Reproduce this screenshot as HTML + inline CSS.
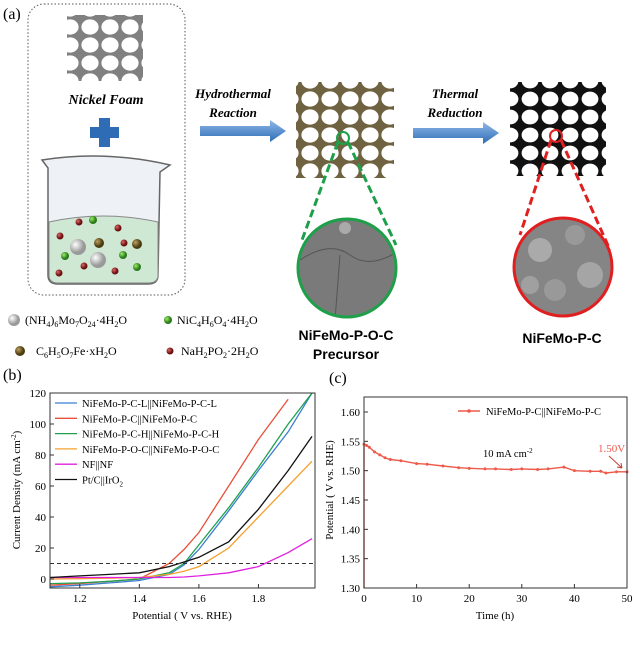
<!DOCTYPE html>
<html><head><meta charset="utf-8"><style>
body{margin:0;background:#fff;width:640px;height:640px;overflow:hidden}
svg{font-family:"Liberation Serif",serif}
</style></head><body>
<svg id="s" width="640" height="640" viewBox="0 0 640 640">
<defs>
<linearGradient id="arr" x1="0" y1="0" x2="0" y2="1"><stop offset="0" stop-color="#8fb8e8"/><stop offset="1" stop-color="#2e6db5"/></linearGradient>
<radialGradient id="wb" cx="0.35" cy="0.35"><stop offset="0" stop-color="#fff"/><stop offset="1" stop-color="#999"/></radialGradient>
<radialGradient id="gb" cx="0.35" cy="0.35"><stop offset="0" stop-color="#9e6"/><stop offset="1" stop-color="#2a7a1a"/></radialGradient>
<radialGradient id="rb" cx="0.35" cy="0.35"><stop offset="0" stop-color="#d66"/><stop offset="1" stop-color="#6a1010"/></radialGradient>
<radialGradient id="ob" cx="0.35" cy="0.35"><stop offset="0" stop-color="#bba060"/><stop offset="1" stop-color="#4a3a10"/></radialGradient>
<pattern id="foamG" width="20" height="18" patternUnits="userSpaceOnUse"><rect width="20" height="18" fill="#808080"/><ellipse cx="10" cy="9" rx="8.6" ry="7.6" fill="#fff"/></pattern>
<pattern id="foamB" width="20" height="18" patternUnits="userSpaceOnUse"><rect width="20" height="18" fill="#6f6240"/><ellipse cx="10" cy="9" rx="8.6" ry="7.6" fill="#fff"/></pattern>
<pattern id="foamK" width="20" height="18" patternUnits="userSpaceOnUse"><rect width="20" height="18" fill="#111"/><ellipse cx="10" cy="9" rx="8.4" ry="7.4" fill="#fff"/></pattern>
<clipPath id="c1"><circle cx="347" cy="268" r="49"/></clipPath>
<clipPath id="c2"><circle cx="563" cy="267" r="49"/></clipPath>
</defs>

<g>
<text x="3" y="19" font-size="16">(a)</text>
<rect x="28" y="4" width="157" height="291" rx="16" fill="none" stroke="#555" stroke-width="1" stroke-dasharray="1.5,2"/>
<rect x="67" y="15" width="76" height="66" fill="url(#foamG)"/>
<text x="106" y="104" font-size="14" font-weight="bold" font-style="italic" text-anchor="middle">Nickel Foam</text>
<path d="M99 118h11v9h9v11h-9v9h-11v-9h-9v-11h9z" fill="#2e6db5"/>
<g>
<path d="M42 160 Q105 150 170 165 L160 172 L158 275 Q158 284 148 284 L58 284 Q48 284 48 275 L48 168 Z" fill="#eef2f6" stroke="#666" stroke-width="1.5"/>
<path d="M49 222 Q103 210 158 222 L158 275 Q158 283 148 283 L58 283 Q49 283 49 275 Z" fill="#cfe8d4" stroke="#888"/>
<circle cx="78" cy="247" r="8" fill="url(#wb)"/><circle cx="98" cy="260" r="8" fill="url(#wb)"/>
<circle cx="99" cy="243" r="5" fill="url(#ob)"/><circle cx="137" cy="244" r="5" fill="url(#ob)"/>
<circle cx="93" cy="220" r="4" fill="url(#gb)"/><circle cx="65" cy="256" r="4" fill="url(#gb)"/><circle cx="123" cy="255" r="4" fill="url(#gb)"/><circle cx="137" cy="267" r="4" fill="url(#gb)"/>
<circle cx="79" cy="222" r="3.5" fill="url(#rb)"/><circle cx="118" cy="228" r="3.5" fill="url(#rb)"/><circle cx="60" cy="236" r="3.5" fill="url(#rb)"/><circle cx="124" cy="243" r="3.5" fill="url(#rb)"/><circle cx="59" cy="273" r="3.5" fill="url(#rb)"/><circle cx="84" cy="266" r="3.5" fill="url(#rb)"/><circle cx="115" cy="271" r="3.5" fill="url(#rb)"/>
</g>
<g font-size="12">
<circle cx="14" cy="320" r="6" fill="url(#wb)"/><text x="25" y="324">(NH<tspan font-size="8" dy="3">4</tspan><tspan dy="-3">)</tspan><tspan font-size="8" dy="3">6</tspan><tspan dy="-3">Mo</tspan><tspan font-size="8" dy="3">7</tspan><tspan dy="-3">O</tspan><tspan font-size="8" dy="3">24</tspan><tspan dy="-3">·4H</tspan><tspan font-size="8" dy="3">2</tspan><tspan dy="-3">O</tspan></text>
<circle cx="168" cy="320" r="4" fill="url(#gb)"/><text x="177" y="324">NiC<tspan font-size="8" dy="3">4</tspan><tspan dy="-3">H</tspan><tspan font-size="8" dy="3">6</tspan><tspan dy="-3">O</tspan><tspan font-size="8" dy="3">4</tspan><tspan dy="-3">·4H</tspan><tspan font-size="8" dy="3">2</tspan><tspan dy="-3">O</tspan></text>
<circle cx="20" cy="351" r="5" fill="url(#ob)"/><text x="36" y="355">C<tspan font-size="8" dy="3">6</tspan><tspan dy="-3">H</tspan><tspan font-size="8" dy="3">5</tspan><tspan dy="-3">O</tspan><tspan font-size="8" dy="3">7</tspan><tspan dy="-3">Fe·xH</tspan><tspan font-size="8" dy="3">2</tspan><tspan dy="-3">O</tspan></text>
<circle cx="170" cy="351" r="3.5" fill="url(#rb)"/><text x="181" y="355">NaH<tspan font-size="8" dy="3">2</tspan><tspan dy="-3">PO</tspan><tspan font-size="8" dy="3">2</tspan><tspan dy="-3">·2H</tspan><tspan font-size="8" dy="3">2</tspan><tspan dy="-3">O</tspan></text>
</g>
<text x="233" y="98" font-size="13" font-weight="bold" font-style="italic" text-anchor="middle">Hydrothermal</text>
<text x="233" y="117" font-size="13" font-weight="bold" font-style="italic" text-anchor="middle">Reaction</text>
<path d="M200 126h70v-6l16 11-16 11v-6h-70z" fill="url(#arr)"/>
<text x="455" y="98" font-size="13" font-weight="bold" font-style="italic" text-anchor="middle">Thermal</text>
<text x="455" y="117" font-size="13" font-weight="bold" font-style="italic" text-anchor="middle">Reduction</text>
<path d="M413 128h70v-6l16 11-16 11v-6h-70z" fill="url(#arr)"/>
<rect x="296" y="82" width="98" height="96" fill="url(#foamB)"/>
<circle cx="343" cy="138" r="6" fill="none" stroke="#1ea04a" stroke-width="2"/>
<path d="M338 142 L302 240 M348 142 L396 245" stroke="#1ea04a" stroke-width="3" stroke-dasharray="8,4"/>
<g clip-path="url(#c1)"><rect x="290" y="210" width="120" height="120" fill="#7a7a7a"/><path d="M300 260 Q330 240 350 255 T400 250 M340 255 L335 320" stroke="#555" fill="none"/><circle cx="345" cy="228" r="6" fill="#aaa"/></g>
<circle cx="347" cy="268" r="49" fill="none" stroke="#1ea04a" stroke-width="3"/>
<text x="346" y="340" font-size="14" font-weight="bold" font-family="Liberation Sans,sans-serif" text-anchor="middle">NiFeMo-P-O-C</text>
<text x="346" y="359" font-size="14" font-weight="bold" font-family="Liberation Sans,sans-serif" text-anchor="middle">Precursor</text>
<rect x="510" y="82" width="96" height="94" fill="url(#foamK)"/>
<circle cx="556" cy="136" r="6" fill="none" stroke="#e02020" stroke-width="2"/>
<path d="M551 140 L520 235 M561 140 L610 250" stroke="#e02020" stroke-width="3" stroke-dasharray="8,4"/>
<g clip-path="url(#c2)"><rect x="510" y="215" width="110" height="110" fill="#858585"/><circle cx="540" cy="250" r="12" fill="#aaa"/><circle cx="575" cy="235" r="10" fill="#999"/><circle cx="590" cy="275" r="13" fill="#a5a5a5"/><circle cx="555" cy="290" r="11" fill="#999"/><circle cx="530" cy="285" r="9" fill="#a0a0a0"/></g>
<circle cx="563" cy="267" r="49" fill="none" stroke="#e02020" stroke-width="3"/>
<text x="562" y="343" font-size="14" font-weight="bold" font-family="Liberation Sans,sans-serif" text-anchor="middle">NiFeMo-P-C</text>
</g>

<text x="3" y="380" font-size="16">(b)</text>
<text x="329" y="383" font-size="16">(c)</text>
<g id="gb2"></g>
<g id="gc"></g>
</svg>
<script>
// chart b data
const bV = [1.1,1.2,1.3,1.4,1.5,1.55,1.6,1.7,1.8,1.9,1.98];
const bRed = [-4,-3,-1.5,0,10,19,30,60,90,116,null];
const bBlue = [-5,-4,-2.5,-1,3,9,19,44,70,95,120];
const bGreen = [-3,-2.5,-1.5,0,4,10,22,46,72,100,120];
const bOrange = [0,0.2,0.5,1,3,5,8,20,40,60,76];
const bMagenta = [1,1,1,1,1,1.3,2,4,8,17,26];
const bBlack = [1,2,3,4,8,11,14,24,45,70,92];
const bNames = ["NiFeMo-P-C-L||NiFeMo-P-C-L","NiFeMo-P-C||NiFeMo-P-C","NiFeMo-P-C-H||NiFeMo-P-C-H","NiFeMo-P-O-C||NiFeMo-P-O-C","NF||NF","Pt/C||IrO2"];
const bXTicks = [1.2,1.4,1.6,1.8];
const bYTicks = [0,20,40,60,80,100,120];
// chart c data
const cT = [0,0.5,1,2,3,4,5,7,10,12,15,18,20,23,25,28,30,33,35,38,40,43,45,46,48,50];
const cP = [1.545,1.543,1.54,1.532,1.527,1.522,1.519,1.517,1.512,1.511,1.508,1.505,1.504,1.503,1.503,1.502,1.503,1.502,1.503,1.506,1.5,1.499,1.499,1.496,1.498,1.498];
const cXTicks = [0,10,20,30,40,50];
const cYTicks = [1.30,1.35,1.40,1.45,1.50,1.55,1.60];

const NS="http://www.w3.org/2000/svg";
function mk(p,t,a){const e=document.createElementNS(NS,t);for(const k in a)e.setAttribute(k,a[k]);p.appendChild(e);return e;}

const gb=document.getElementById('gb2');
const bx=v=>50+(v-1.1)*(265/0.89), by=v=>579-v*1.55;
const bcols=["#3a7fd0","#e8503a","#20a050","#f5a030","#e020e0","#111"];
const bser=[bBlue,bRed,bGreen,bOrange,bMagenta,bBlack];
const bclip=mk(gb,'clipPath',{id:'bclip'});mk(bclip,'rect',{x:50,y:393,width:265,height:195});
bser.forEach((s,i)=>{let d="";s.forEach((v,j)=>{if(v!==null)d+=(d?"L":"M")+bx(bV[j]).toFixed(1)+" "+by(v).toFixed(1);});
 const p=mk(gb,'path',{d:d,fill:"none",stroke:bcols[i],"stroke-width":1.3,"clip-path":"url(#bclip)"});
 
 });
const ref=mk(gb,'line',{x1:50,x2:315,y1:by(10),y2:by(10),stroke:"#333","stroke-dasharray":"4,3"});


const fb=mk(gb,'rect',{x:50,y:393,width:265,height:195,fill:"none",stroke:"#333"});


bXTicks.forEach(t=>{mk(gb,'line',{x1:bx(t),x2:bx(t),y1:588,y2:584,stroke:"#333"});const e=mk(gb,'text',{x:bx(t),y:602,"font-size":11,"text-anchor":"middle"});e.textContent=t.toFixed(1);
 
 });
bYTicks.forEach(t=>{mk(gb,'line',{x1:50,x2:54,y1:by(t),y2:by(t),stroke:"#333"});const e=mk(gb,'text',{x:46,y:by(t)+4,"font-size":11,"text-anchor":"end"});e.textContent=t;
 
 });
let xt=mk(gb,'text',{x:182,y:619,"font-size":11,"text-anchor":"middle"});xt.textContent="Potential ( V vs. RHE)";


let yt=mk(gb,'text',{x:0,y:0,"font-size":11,"text-anchor":"middle",transform:"translate(20 490) rotate(-90)"});yt.innerHTML='Current Density (mA cm<tspan font-size="7" dy="-4">-2</tspan><tspan dy="4">)</tspan>';


[0,1,2,3,4,5].forEach((i,k)=>{const y=403+k*15.3;
 mk(gb,'line',{x1:55,x2:77,y1:y,y2:y,stroke:bcols[i],"stroke-width":1.3});
 const t=mk(gb,'text',{x:82,y:y+4,"font-size":10.5});
 t.innerHTML=i==5?'Pt/C||IrO<tspan font-size="7" dy="3">2</tspan>':bNames[i];
 
 });

const gc=document.getElementById('gc');
const cx=v=>364+v*(263/50), cy=v=>588-(v-1.30)*(176/0.3);
const ccol="#ee5a4a";
let cd="M"+cx(0)+" "+cy(1.30);cT.forEach((t,j)=>{cd+="L"+cx(t).toFixed(1)+" "+cy(cP[j]).toFixed(1);});
const cl=mk(gc,'path',{d:cd,fill:"none",stroke:ccol,"stroke-width":1.4});


cT.forEach((t,j)=>{const m=mk(gc,'circle',{cx:cx(t),cy:cy(cP[j]),r:1.5,fill:ccol});
 
 });
const fc=mk(gc,'rect',{x:364,y:397,width:263,height:191,fill:"none",stroke:"#333"});


cXTicks.forEach(t=>{mk(gc,'line',{x1:cx(t),x2:cx(t),y1:588,y2:584,stroke:"#333"});const e=mk(gc,'text',{x:cx(t),y:602,"font-size":11,"text-anchor":"middle"});e.textContent=t;
 
 });
cYTicks.forEach(t=>{mk(gc,'line',{x1:364,x2:368,y1:cy(t),y2:cy(t),stroke:"#333"});const e=mk(gc,'text',{x:360,y:cy(t)+4,"font-size":11,"text-anchor":"end"});e.textContent=t.toFixed(2);
 
 });
xt=mk(gc,'text',{x:495,y:619,"font-size":11,"text-anchor":"middle"});xt.textContent="Time (h)";


yt=mk(gc,'text',{x:0,y:0,"font-size":11,"text-anchor":"middle",transform:"translate(333 490) rotate(-90)"});yt.textContent="Potential ( V vs. RHE)";


mk(gc,'line',{x1:458,x2:480,y1:411,y2:411,stroke:ccol,"stroke-width":1.4});mk(gc,'circle',{cx:469,cy:411,r:1.8,fill:ccol});
let lt=mk(gc,'text',{x:486,y:415,"font-size":10.5});lt.textContent="NiFeMo-P-C||NiFeMo-P-C";


let an=mk(gc,'text',{x:483,y:457,"font-size":10.5});an.innerHTML='10 mA cm<tspan font-size="7" dy="-4">-2</tspan>';


let vl=mk(gc,'text',{x:598,y:452,"font-size":11,fill:ccol});vl.textContent="1.50V";


mk(gc,'path',{d:"M609 456 L622 468 M622 468 l-5 -1 M622 468 l-1 -5",stroke:"#c04030","stroke-width":1,fill:"none"});
</script>
</body></html>
